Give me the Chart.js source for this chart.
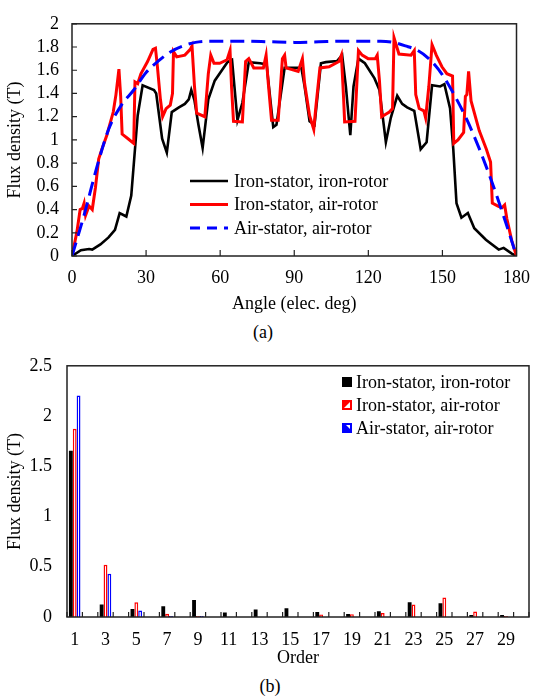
<!DOCTYPE html>
<html>
<head>
<meta charset="utf-8">
<script src="https://cdn.jsdelivr.net/npm/chart.js@4.4.1/dist/chart.umd.min.js"></script>
<style>
  body { margin: 0; background: #fff; width: 541px; height: 698px; position: relative; overflow: hidden; }
  .box { position: absolute; left: 0; }
  .cap { position: absolute; font: 18px "Liberation Serif", "Times New Roman", serif; color: #000; transform: translate(-50%, -50%); }
</style>
</head>
<body>
<div class="box" style="top:0"><canvas id="waveChart" width="541" height="319"></canvas></div>
<div class="cap" style="left:263px; top:332px">(a)</div>
<div class="box" style="top:340px"><canvas id="orderChart" width="541" height="333"></canvas></div>
<div class="cap" style="left:270px; top:686px">(b)</div>
<script>
// ---- (a) flux density waveform ----
var blackAngle = [0, 3.6, 6.9, 8.2, 11.5, 14.8, 17.4, 19.3, 22, 24, 26.6, 28.6, 33.2, 34.1, 36.5, 38.4, 40.4, 43.3, 45.7, 47.3, 48.3, 49.6, 51.2, 52.9, 55.2, 57.8, 63, 64.8, 67, 69, 71.6, 76.2, 78.8, 81.5, 82.8, 86.1, 90.7, 92.9, 94.2, 96.2, 98.2, 100.8, 102.8, 107.4, 109.4, 110.9, 112.7, 114, 116, 118.6, 122.5, 124.5, 127.1, 129.1, 131.7, 133.7, 135.7, 138.6, 141.2, 143.6, 145.8, 149.1, 150.8, 153.1, 154.4, 155.7, 157.7, 160.3, 162.9, 167.6, 172.8, 174.8, 178.1, 180];
var blackFlux = [0, 0.05, 0.06, 0.055, 0.10, 0.16, 0.225, 0.37, 0.34, 0.52, 1.21, 1.47, 1.43, 1.40, 1.01, 0.89, 1.24, 1.28, 1.31, 1.35, 1.43, 1.34, 1.13, 0.93, 1.35, 1.51, 1.67, 1.69, 1.17, 1.32, 1.67, 1.66, 1.65, 1.11, 1.13, 1.62, 1.62, 1.62, 1.46, 1.16, 1.13, 1.66, 1.67, 1.68, 1.73, 1.46, 1.04, 1.46, 1.70, 1.66, 1.53, 1.43, 0.98, 1.19, 1.38, 1.31, 1.28, 1.25, 0.92, 0.98, 1.47, 1.46, 1.48, 1.27, 0.92, 0.455, 0.33, 0.37, 0.24, 0.14, 0.055, 0.07, 0.02, 0];

var redAngle = [0, 2, 3.3, 4.2, 4.9, 5.5, 6.9, 8.2, 9.5, 10.8, 12.1, 14.1, 16.7, 17.8, 19, 19.7, 20.3, 22.7, 25, 25.5, 26.6, 27.9, 30.6, 32.8, 33.8, 34.5, 35.8, 36.7, 38.1, 39.8, 40.7, 41.1, 42.4, 45.7, 47.9, 48.6, 49.6, 50.5, 53.8, 55.2, 56.2, 57.5, 59.8, 62.8, 64, 64.6, 65.4, 69, 70.3, 71.6, 73.6, 77.5, 78.6, 79.5, 80.8, 83.5, 85.2, 86.1, 86.7, 91.6, 93.3, 94.2, 96.2, 97.9, 98.8, 100.4, 104.1, 108.1, 109.1, 110, 110.4, 114.6, 116, 117.5, 119.9, 122.8, 123.6, 124.5, 125.4, 128.5, 129.8, 130.4, 132.4, 137.3, 138.6, 139.2, 140.6, 142.5, 143.2, 144.5, 145.8, 147.5, 149.8, 151.8, 154.1, 154.6, 156.3, 158.6, 159.3, 159.9, 160.6, 161.6, 164.9, 167.8, 169.5, 170.2, 172.5, 174.1, 175.2, 176.1, 178.1, 180];
var redFlux = [0, 0.21, 0.40, 0.41, 0.455, 0.35, 0.43, 0.40, 0.59, 0.835, 0.92, 1.04, 1.24, 1.39, 1.61, 1.38, 1.05, 1.01, 0.97, 1.50, 1.485, 1.57, 1.675, 1.78, 1.79, 1.65, 1.35, 1.20, 1.27, 1.30, 1.40, 1.76, 1.715, 1.73, 1.78, 1.81, 1.46, 1.23, 1.20, 1.57, 1.73, 1.66, 1.66, 1.69, 1.77, 1.46, 1.16, 1.155, 1.675, 1.70, 1.62, 1.62, 1.73, 1.485, 1.17, 1.17, 1.70, 1.73, 1.62, 1.59, 1.70, 1.485, 1.21, 1.09, 1.295, 1.62, 1.63, 1.675, 1.73, 1.35, 1.155, 1.16, 1.77, 1.73, 1.70, 1.70, 1.73, 1.51, 1.20, 1.24, 1.27, 1.88, 1.74, 1.73, 1.77, 1.39, 1.27, 1.25, 1.19, 1.46, 1.82, 1.73, 1.63, 1.57, 1.55, 0.97, 1.00, 1.065, 1.375, 1.39, 1.59, 1.335, 1.08, 0.92, 0.81, 0.455, 0.43, 0.415, 0.44, 0.32, 0.13, 0];

var blueAngle = [0, 5, 10, 15, 20, 25, 30, 35, 40, 45, 50, 55, 60, 70, 80, 90, 100, 110, 120, 125, 130, 135, 140, 145, 150, 155, 160, 165, 170, 175, 180];
var blueFlux = [0, 0.36, 0.76, 1.10, 1.30, 1.43, 1.58, 1.68, 1.76, 1.81, 1.84, 1.85, 1.85, 1.85, 1.845, 1.84, 1.845, 1.85, 1.85, 1.85, 1.84, 1.81, 1.77, 1.69, 1.56, 1.38, 1.17, 0.92, 0.64, 0.33, 0];

// ---- (b) harmonic orders ----
var orders = ['1', '2', '3', '4', '5', '6', '7', '8', '9', '10', '11', '12', '13', '14', '15', '16', '17', '18', '19', '20', '21', '22', '23', '24', '25', '26', '27', '28', '29', '30'];
var ironIron = [1.655, 0, 0.124, 0, 0.08, 0, 0.107, 0, 0.17, 0, 0.046, 0, 0.075, 0, 0.088, 0, 0.05, 0, 0.03, 0, 0.058, 0, 0.146, 0, 0.136, 0, 0.02, 0, 0.02, 0];
var ironAir = [1.873, 0, 0.52, 0, 0.146, 0, 0.033, 0, 0.01, 0, 0, 0, 0, 0, 0, 0, 0.026, 0, 0.028, 0, 0.04, 0, 0.124, 0, 0.195, 0, 0.055, 0, 0.01, 0];
var airAir = [2.205, 0, 0.43, 0, 0.065, 0, 0.01, 0, 0.01, 0, 0, 0, 0, 0, 0, 0, 0, 0, 0, 0, 0, 0, 0, 0, 0, 0, 0, 0, 0, 0];

var seriesNames = ['Iron-stator, iron-rotor', 'Iron-stator, air-rotor', 'Air-stator, air-rotor'];

var FONT = '"Liberation Serif", "Times New Roman", serif';
Chart.defaults.font.family = FONT;
Chart.defaults.font.size = 18;
Chart.defaults.color = '#000';

function pts(xs, ys) {
  return xs.map(function(x, i) { return {x: x, y: ys[i]}; });
}

// "0", "0.2", "1", "2" - no trailing zeros
function plainNum(v) {
  return String(Number(v.toFixed(2)));
}

// box around plot + short ticks pointing inward
var frameTicks = {
  id: 'frameTicks',
  afterDatasetsDraw: function(chart, args, opts) {
    var ctx = chart.ctx, a = chart.chartArea, sx = chart.scales.x, sy = chart.scales.y;
    ctx.save();
    ctx.strokeStyle = '#222';
    ctx.lineWidth = 1.5;
    ctx.strokeRect(a.left, a.top, a.right - a.left, a.bottom - a.top);
    ctx.lineWidth = 1.2;
    ctx.beginPath();
    if (opts.yTicks) {
      sy.ticks.forEach(function(t) {
        var py = sy.getPixelForValue(t.value);
        ctx.moveTo(a.left, py); ctx.lineTo(a.left + 5, py);
      });
    }
    if (opts.category) {
      for (var i = 0; i <= sx.ticks.length; i++) {
        var px = sx.getPixelForValue(i - 0.5);
        ctx.moveTo(px, a.bottom); ctx.lineTo(px, a.bottom - 5);
      }
    } else {
      sx.ticks.forEach(function(t) {
        var px = sx.getPixelForValue(t.value);
        ctx.moveTo(px, a.bottom); ctx.lineTo(px, a.bottom - 6);
      });
    }
    ctx.stroke();
    ctx.restore();
  }
};

// legend drawn inside the plot
var insideLegend = {
  id: 'insideLegend',
  afterDraw: function(chart, args, o) {
    var ctx = chart.ctx;
    ctx.save();
    ctx.font = '18px ' + FONT;
    ctx.textBaseline = 'middle';
    chart.data.datasets.forEach(function(ds, i) {
      var y = o.y + i * o.gap;
      if (o.kind === 'line') {
        ctx.strokeStyle = ds.borderColor;
        ctx.lineWidth = ds.borderWidth;
        ctx.setLineDash(ds.borderDash ? [10, 7] : []);
        ctx.beginPath(); ctx.moveTo(o.x, y); ctx.lineTo(o.x + o.w, y); ctx.stroke();
        ctx.setLineDash([]);
      } else {
        var s = o.w, x0 = o.x, y0 = y - s / 2;
        if (i === 0) {
          ctx.fillStyle = '#000'; ctx.fillRect(x0, y0, s, s);
        } else {
          var c = i === 1 ? '#ff0000' : '#0000ff';
          ctx.fillStyle = c; ctx.fillRect(x0, y0, s, s);
          ctx.fillStyle = '#fff';
          ctx.beginPath();
          if (i === 1) {
            ctx.moveTo(x0 + 2, y0 + s - 2); ctx.lineTo(x0 + s - 2, y0 + 2); ctx.lineTo(x0 + s - 2, y0 + s - 2);
          } else {
            ctx.moveTo(x0 + 4, y0 + 2); ctx.lineTo(x0 + s - 2, y0 + 2); ctx.lineTo(x0 + s - 2, y0 + s - 4);
          }
          ctx.closePath(); ctx.fill();
        }
      }
      ctx.fillStyle = '#000';
      ctx.fillText(ds.label, o.x + o.w + o.pad, y + 1);
    });
    ctx.restore();
  }
};

new Chart(document.getElementById('waveChart'), {
  type: 'line',
  data: {
    datasets: [
      { label: seriesNames[0], data: pts(blackAngle, blackFlux), borderColor: '#000000', borderWidth: 2.6, pointRadius: 0, tension: 0, order: 2 },
      { label: seriesNames[1], data: pts(redAngle, redFlux), borderColor: '#ff0000', borderWidth: 3, pointRadius: 0, tension: 0, order: 1 },
      { label: seriesNames[2], data: pts(blueAngle, blueFlux), borderColor: '#0000ff', borderWidth: 3, borderDash: [14, 7], pointRadius: 0, cubicInterpolationMode: 'monotone', order: 0 }
    ]
  },
  options: {
    responsive: false,
    animation: false,
    devicePixelRatio: 1,
    layout: { padding: { top: 10, right: 13, left: 0, bottom: 0 } },
    plugins: {
      legend: { display: false },
      tooltip: { enabled: false },
      frameTicks: { yTicks: true },
      insideLegend: { kind: 'line', x: 190, y: 181, gap: 23.5, w: 38, pad: 6 }
    },
    scales: {
      x: {
        type: 'linear', min: 0, max: 180,
        grid: { display: false, drawTicks: false },
        border: { display: false },
        ticks: { stepSize: 30, padding: 11, maxRotation: 0 },
        title: { display: true, text: 'Angle (elec. deg)', padding: { top: 4, bottom: 4 } },
        afterFit: function(s) { s.height = 63; }
      },
      y: {
        min: 0, max: 2,
        grid: { display: false, drawTicks: false },
        border: { display: false },
        ticks: { count: 11, autoSkip: false, padding: 13, callback: plainNum },
        title: { display: true, text: 'Flux density (T)', padding: { top: 4, bottom: 4 } },
        afterFit: function(s) { s.width = 72; }
      }
    }
  },
  plugins: [frameTicks, insideLegend]
});

new Chart(document.getElementById('orderChart'), {
  type: 'bar',
  data: {
    labels: orders,
    datasets: [
      { label: seriesNames[0], data: ironIron, backgroundColor: '#000000', borderWidth: 0 },
      { label: seriesNames[1], data: ironAir, backgroundColor: '#ffffff', borderColor: '#ff0000', borderWidth: 1.5 },
      { label: seriesNames[2], data: airAir, backgroundColor: '#ffffff', borderColor: '#0000ff', borderWidth: 1.5 }
    ]
  },
  options: {
    responsive: false,
    animation: false,
    devicePixelRatio: 1,
    layout: { padding: { top: 20, right: 12, left: 0, bottom: 0 } },
    datasets: { bar: { categoryPercentage: 0.75, barPercentage: 1.0 } },
    plugins: {
      legend: { display: false },
      tooltip: { enabled: false },
      frameTicks: { yTicks: false, category: true },
      insideLegend: { kind: 'box', x: 342, y: 42, gap: 23, w: 10, pad: 4 }
    },
    scales: {
      x: {
        grid: { display: false, drawTicks: false },
        border: { display: false },
        ticks: {
          autoSkip: false, maxRotation: 0, padding: 12,
          callback: function(v, i) { return i % 2 === 0 ? orders[i] : ''; }
        },
        title: { display: true, text: 'Order', padding: { top: 0, bottom: 4 } },
        afterFit: function(s) { s.height = 56; }
      },
      y: {
        min: 0, max: 2.5,
        grid: { display: false, drawTicks: false },
        border: { display: false },
        ticks: { count: 6, autoSkip: false, padding: 15, callback: plainNum },
        title: { display: true, text: 'Flux density (T)', padding: { top: 4, bottom: 4 } },
        afterFit: function(s) { s.width = 67; }
      }
    }
  },
  plugins: [frameTicks, insideLegend]
});
</script>
</body>
</html>
